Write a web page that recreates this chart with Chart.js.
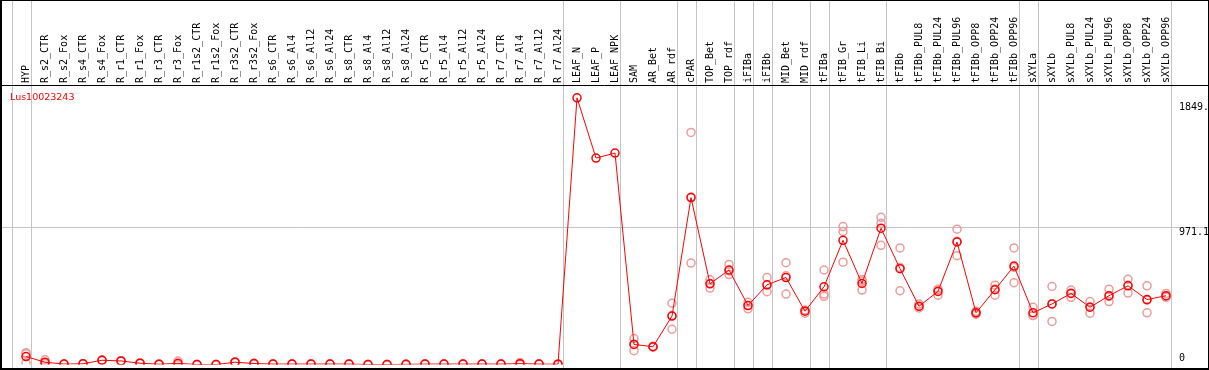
<!DOCTYPE html>
<html>
<head>
<meta charset="utf-8">
<script src="https://cdn.jsdelivr.net/npm/chart.js@4/dist/chart.umd.min.js"></script>
<style>
  html, body { margin: 0; padding: 0; background: #fff; }
  #wrap { width: 1209px; height: 370px; position: relative; }
</style>
</head>
<body>
<div id="wrap"><canvas id="expChart"></canvas></div>
<script>
const geneName = 'Lus10023243'

const categories = [
    'HYP', 'R_s2_CTR', 'R_s2_Fox', 'R_s4_CTR', 'R_s4_Fox', 'R_r1_CTR', 'R_r1_Fox', 'R_r3_CTR', 'R_r3_Fox',
    'R_r1s2_CTR', 'R_r1s2_Fox', 'R_r3s2_CTR', 'R_r3s2_Fox', 'R_s6_CTR', 'R_s6_Al4', 'R_s6_Al12', 'R_s6_Al24',
    'R_s8_CTR', 'R_s8_Al4', 'R_s8_Al12', 'R_s8_Al24', 'R_r5_CTR', 'R_r5_Al4', 'R_r5_Al12', 'R_r5_Al24',
    'R_r7_CTR', 'R_r7_Al4', 'R_r7_Al12', 'R_r7_Al24', 'LEAF_N', 'LEAF_P', 'LEAF_NPK', 'SAM', 'AR_Bet', 'AR_rdf',
    'cPAR', 'TOP_Bet', 'TOP_rdf', 'iFIBa', 'iFIBb', 'MID_Bet', 'MID_rdf', 'tFIBa', 'tFIB_Gr', 'tFIB_Li', 'tFIB_Bi',
    'tFIBb', 'tFIBb_PUL8', 'tFIBb_PUL24', 'tFIBb_PUL96', 'tFIBb_OPP8', 'tFIBb_OPP24', 'tFIBb_OPP96',
    'sXYLa', 'sXYLb', 'sXYLb_PUL8', 'sXYLb_PUL24', 'sXYLb_PUL96', 'sXYLb_OPP8', 'sXYLb_OPP24', 'sXYLb_OPP96'
]

// mean expression per sample
const meanValues = [
    56, 16, 3, 5, 30, 25, 9, 2, 8, 0, 0, 16, 7, 3, 3, 3, 3, 3, 0, 0, 1, 3, 3, 3, 3, 3, 6, 3, 2,
    1877, 1453, 1488, 141, 125, 341, 1175, 568, 665, 415, 561, 612, 375,
    547, 874, 570, 959, 674, 410, 514, 862, 364, 526, 693, 364, 426, 500, 403, 484, 554, 457, 484
]

// replicates
const rep1 = [
    83, 33, 4, 6, 31, 27, 10, 2, 24, 0, 0, 17, 8, 3, 3, 4, 3, 4, 0, 0, 1, 4, 3, 4, 3, 4, 14, 3, 2,
    null, null, null, 183, 128, 431, 1633, 596, 704, 438, 612, 716, 382,
    665, 971, 599, 1036, 820, 425, 530, 952, 375, 558, 820, 403, 549, 524, 443, 530, 600, 554, 500
]
const rep2 = [
    10, 8, 2, 4, 29, 23, 8, 1, 0, 0, 0, 15, 6, 2, 2, 2, 3, 2, 0, 0, 0, 2, 3, 2, 3, 2, 2, 3, 2,
    null, null, null, 97, 122, 248, 714, 538, 633, 392, 512, 496, 361,
    496, 936, 524, 994, 519, 398, 488, 766, 354, 488, 576, 345, 303, 473, 361, 443, 503, 364, 473
]
const rep3 = [
    75, 7, 3, 5, 30, 25, 9, 3, 0, 0, 0, 16, 7, 4, 4, 3, 3, 3, 0, 0, 2, 3, 3, 3, 3, 3, 2, 3, 2,
    null, null, null, 143, 125, 344, 1178, 570, 658, 415, 559, 624, 382,
    480, 720, 587, 839, 683, 407, 524, 868, 363, 532, 683, 344, 426, 503, 405, 479, 559, 453, 479
]

const yTickValues = [0, 971.1, 1849]
const yTickLabels = ['0', '971.1', '1849.']
const yMax = 1967

// sample index after which a group separator line is drawn
const groupEnds = [-1, 0, 28, 31, 34, 35, 37, 38, 39, 41, 42, 45, 52, 53, 60]

const monoFont = '10px "DejaVu Sans Mono", monospace'

const framePlugin = {
    id: 'frame',
    beforeDatasetsDraw(chart) {
        const ctx = chart.ctx
        const x = chart.scales.x
        const y = chart.scales.y
        const step = x.getPixelForValue(1) - x.getPixelForValue(0)
        ctx.save()
        ctx.strokeStyle = '#c4c4c4'
        ctx.lineWidth = 1
        groupEnds.forEach(i => {
            const px = Math.round(x.getPixelForValue(0) + step * i + 4.5) + 0.5
            ctx.beginPath()
            ctx.moveTo(px, 0)
            ctx.lineTo(px, chart.height)
            ctx.stroke()
        })
        const gy = Math.round(y.getPixelForValue(yTickValues[1])) + 0.5
        ctx.beginPath()
        ctx.moveTo(2, gy)
        ctx.lineTo(chart.width, gy)
        ctx.stroke()
        ctx.restore()
    },
    afterDraw(chart) {
        const ctx = chart.ctx
        const y = chart.scales.y
        const w = chart.width
        ctx.save()
        ctx.strokeStyle = '#000'
        ctx.lineWidth = 2
        ctx.beginPath()
        ctx.moveTo(0, 0); ctx.lineTo(w, 0)
        ctx.moveTo(1, 0); ctx.lineTo(1, 370)
        ctx.moveTo(0, 369); ctx.lineTo(w, 369)
        ctx.stroke()
        ctx.lineWidth = 1
        ctx.beginPath()
        ctx.moveTo(0, 85.5); ctx.lineTo(w, 85.5)
        ctx.moveTo(w - 0.5, 0); ctx.lineTo(w - 0.5, 370)
        ctx.stroke()

        ctx.fillStyle = '#ff0000'
        ctx.font = '9.5px "DejaVu Sans", sans-serif'
        ctx.textBaseline = 'middle'
        ctx.textAlign = 'left'
        ctx.fillText(geneName, 10, 97.5)

        ctx.fillStyle = '#000'
        ctx.font = monoFont
        yTickValues.forEach((v, i) => {
            const py = y.getPixelForValue(v)
            if (v === 0) {
                ctx.textBaseline = 'bottom'
                ctx.fillText(yTickLabels[i], 1179, py - 1)
            } else {
                ctx.textBaseline = 'top'
                ctx.fillText(yTickLabels[i], 1179, py + 1)
            }
        })
        ctx.restore()
    }
}

const pointStyle = (color) => ({
    showLine: false,
    pointRadius: 4,
    pointHoverRadius: 4,
    pointBorderWidth: 1.5,
    pointBorderColor: color,
    pointBackgroundColor: 'rgba(0,0,0,0)',
    borderColor: color
})

const pink = '#f19a9a'

new Chart('expChart', {
    type: 'line',
    data: {
        labels: categories,
        datasets: [
            Object.assign({ data: rep1, order: 3 }, pointStyle(pink)),
            Object.assign({ data: rep2, order: 2 }, pointStyle(pink)),
            Object.assign({ data: rep3, order: 1 }, pointStyle(pink)),
            {
                data: meanValues,
                order: 0,
                borderColor: '#ff0000',
                borderWidth: 1,
                pointRadius: 4,
                pointHoverRadius: 4,
                pointBorderWidth: 1.5,
                pointBorderColor: '#ff0000',
                pointBackgroundColor: 'rgba(0,0,0,0)',
                tension: 0
            }
        ]
    },
    options: {
        responsive: true,
        maintainAspectRatio: false,
        animation: false,
        devicePixelRatio: 1,
        layout: { padding: { left: 16.5, right: 0, top: 0, bottom: 2 } },
        plugins: {
            legend: { display: false },
            tooltip: { enabled: false },
            title: { display: false }
        },
        scales: {
            x: {
                position: 'top',
                offset: true,
                grid: { display: false },
                border: { display: false },
                ticks: {
                    autoSkip: false,
                    minRotation: 90,
                    maxRotation: 90,
                    padding: -6,
                    labelOffset: 12,
                    color: '#000',
                    font: { family: '"DejaVu Sans Mono", monospace', size: 10 }
                },
                afterFit: s => { s.height = 85 }
            },
            y: {
                position: 'right',
                min: 0,
                max: yMax,
                grid: { display: false },
                border: { display: false },
                ticks: { display: false },
                afterFit: s => { s.width = 33.5 }
            }
        }
    },
    plugins: [framePlugin]
})
</script>
</body>
</html>
